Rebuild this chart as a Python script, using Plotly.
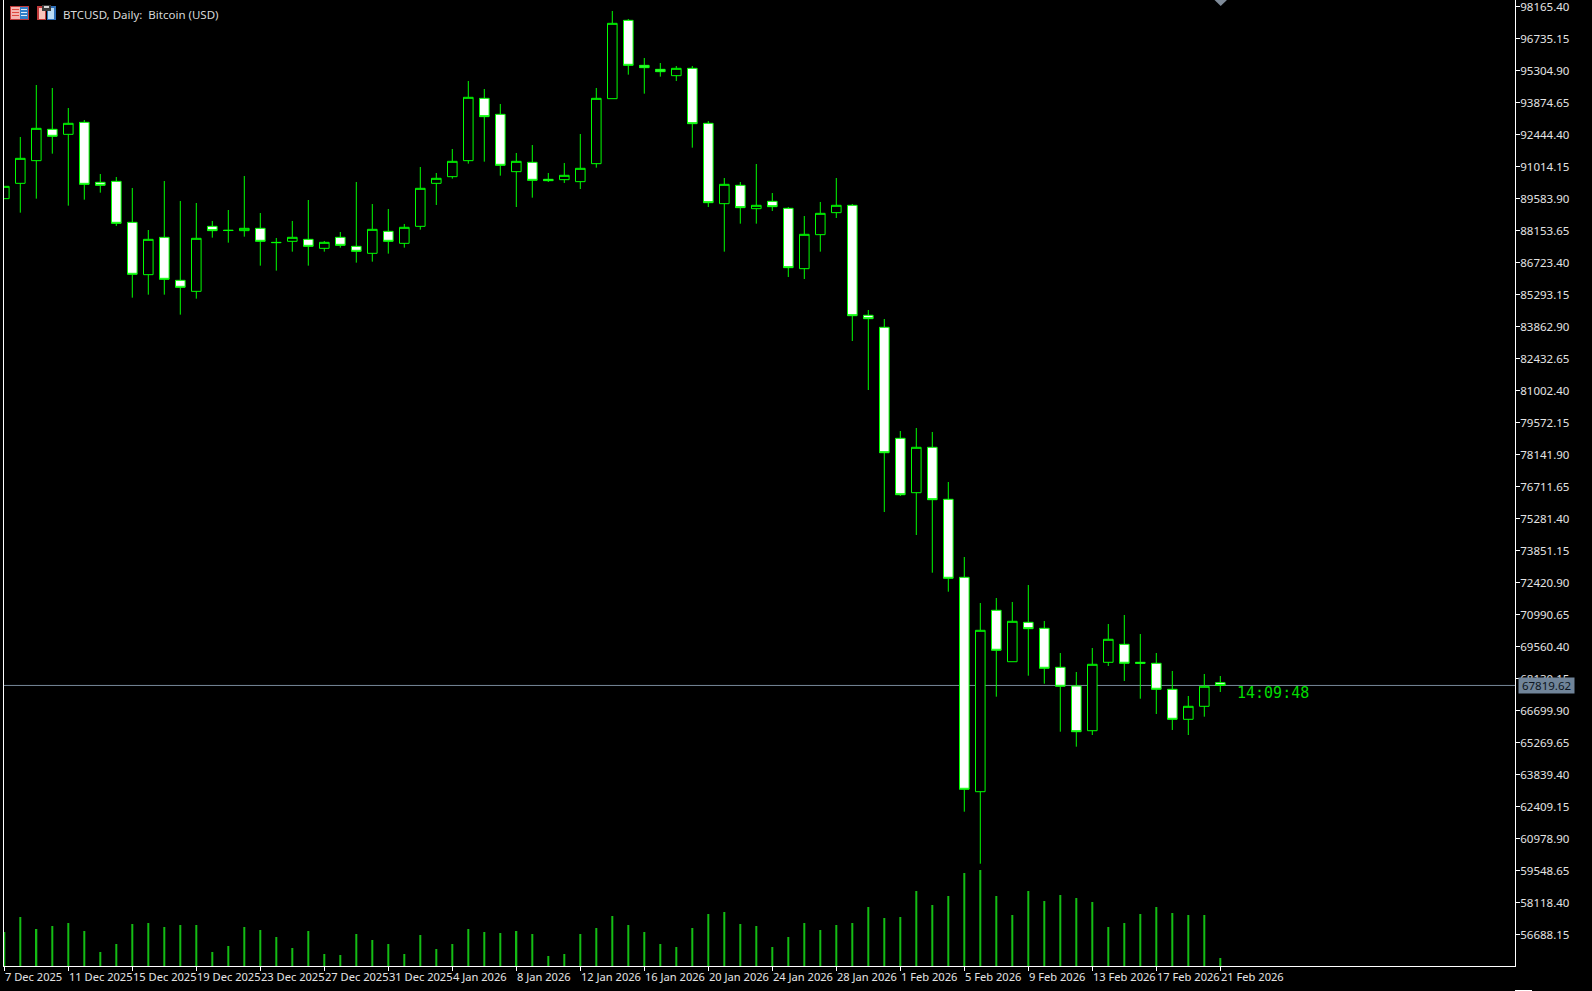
import pandas as pd
import plotly.graph_objects as go

# ---------- data ----------
start_date = "2025-12-07"
open_ = [89577,90262,91275,92676,92452,92988,90307,90351,88519,86180,87849,85927,85435,88340,88168,88147,88251,87623,87670,87759,
         87357,87849,87446,87134,88117,87580,88340,90262,90560,91275,94061,93346,90784,91201,90441,90426,90337,91141,94046,97547,
         95536,95357,95074,95402,92944,89353,90173,89130,89458,89145,86448,87968,88951,89280,84364,83827,78866,76435,78464,76140,
         72653,63071,71179,68881,70642,70374,68631,67795,65797,68854,69659,68854,68810,67648,66307,66888,67943]
high = [90128,92333,94657,94523,93629,93093,90679,90545,90054,88176,90366,89473,89383,88579,89070,90590,88936,87819,88579,89517,
        87685,88087,90322,89338,89115,88445,90992,90724,91797,94836,94478,93808,91618,91975,90724,91171,92467,94523,97964,97607,
        95864,95640,95506,95506,93048,90500,90322,91126,89830,89204,88802,89428,90500,89338,84601,84198,79192,79327,79148,76913,
        73561,71505,71728,71550,72309,70700,69270,68421,69494,70566,70969,70119,69270,68466,67348,68332,68242]
low = [89577,88951,89577,91588,89264,89532,89845,88355,85152,85286,85286,84392,85107,87834,87610,87878,86582,86359,87208,86582,
       87208,87387,86716,86761,87119,87387,88191,89294,90471,91141,91230,90605,89204,89621,90322,90277,90009,90962,94046,95119,
       94270,95029,94836,91856,89204,87208,88459,88459,89026,86076,85986,87208,88713,83215,81025,75572,76287,74544,72859,72010,
       62177,59853,67317,68881,68256,67898,65753,65082,65605,68689,68019,67228,66544,65829,65605,66423,67527]
close = [90128,91379,92720,92363,92944,90217,90173,88474,86195,87759,85971,85614,87804,88147,88153,88251,87670,87613,87849,87446,
         87625,87491,87223,88206,87670,88296,90039,90486,91245,94106,93242,91067,91245,90396,90381,90620,90933,94061,97413,95536,
         95432,95253,95402,92929,89398,90217,89175,89279,89219,86493,87983,88921,89279,84346,84212,78222,76345,78464,76122,72609,
         63178,70284,69391,70687,70356,68586,67782,65753,68765,69883,68810,68810,67648,66307,66888,67782,67819.62]
volume = [34,49,37,40,43,35,14,22,42,43,39,41,41,14,20,39,36,29,18,35,12,11,32,26,22,12,31,17,22,37,34,33,35,32,10,12,32,38,50,41,
          34,22,19,38,52,54,42,40,19,29,43,36,41,43,59,48,49,75,61,70,93,96,70,51,75,65,71,68,64,39,43,52,59,53,51,51,8]
price_ticks = [98165.40,96735.15,95304.90,93874.65,92444.40,91014.15,89583.90,88153.65,86723.40,85293.15,83862.90,82432.65,
               81002.40,79572.15,78141.90,76711.65,75281.40,73851.15,72420.90,70990.65,69560.40,68130.15,66699.90,65269.65,
               63839.40,62409.15,60978.90,59548.65,58118.40,56688.15]
date_tick_labels = ["7 Dec 2025","11 Dec 2025","15 Dec 2025","19 Dec 2025","23 Dec 2025","27 Dec 2025","31 Dec 2025",
                    "4 Jan 2026","8 Jan 2026","12 Jan 2026","16 Jan 2026","20 Jan 2026","24 Jan 2026","28 Jan 2026",
                    "1 Feb 2026","5 Feb 2026","9 Feb 2026","13 Feb 2026","17 Feb 2026","21 Feb 2026"]
last_price = 67819.62
countdown = "14:09:48"
title = "BTCUSD, Daily:\u00a0\u00a0Bitcoin (USD)"
# -------------------------------------------------

W, H = 1592, 991
L, R, B = 4, 1515, 966
GREEN = "#00ff00"
VOL_GREEN = "#14bc14"
TXT = "#e4e4e4"
FONT = "Noto Sans"

dates = pd.date_range(start_date, periods=len(open_), freq="D")
tick_dates = pd.date_range(start_date, periods=len(date_tick_labels), freq="4D")
day_px = 16.0
xr0 = dates[0] - pd.Timedelta(days=0.3 / day_px)
xr1 = xr0 + pd.Timedelta(days=(R - L) / day_px)
ytop = 98455.92
ybot = ytop - 44.695 * B


def px(x):
    return (x - L) / (R - L)


def py(y):
    return (B - y) / B


fig = go.Figure()
fig.add_trace(go.Bar(x=dates, y=volume, yaxis="y2", width=2 / day_px * 86400000,
                     marker=dict(color=VOL_GREEN, line=dict(width=0)), hoverinfo="skip", showlegend=False))
fig.add_trace(go.Candlestick(
    x=dates, open=open_, high=high, low=low, close=close, whiskerwidth=0, showlegend=False,
    increasing=dict(fillcolor="#000000", line=dict(color=GREEN, width=1)),
    decreasing=dict(fillcolor="#ffffff", line=dict(color=GREEN, width=1)),
))

shapes = [
    dict(type="line", xref="paper", yref="y", x0=0, x1=1, y0=last_price, y1=last_price, layer="below",
         line=dict(color="#778899", width=1)),
    # shift marker at top
    dict(type="path", xref="paper", yref="paper", layer="above", line=dict(width=0), fillcolor="#7f8b99",
         path=f"M{px(1213.5)},{py(-1)} L{px(1228)},{py(-1)} L{px(1220.7)},{py(6)} Z"),
    # scrap at bottom
    dict(type="rect", xref="paper", yref="paper", x0=px(1515), x1=px(1532), y0=py(991), y1=py(990),
         fillcolor="#ffffff", line=dict(width=0), layer="above"),
]


def box(x0, y0, x1, y1, fill):
    return dict(type="rect", xref="paper", yref="paper", x0=px(x0), x1=px(x1), y0=py(y0), y1=py(y1),
                fillcolor=fill, line=dict(width=0), layer="above")


# toolbar icons
shapes += [
    box(10, 6, 29, 20, "#c03a3a"), box(11, 7, 20, 19, "#f5b5b0"), box(20, 7, 28, 19, "#2f7fc8"),
    box(12, 9, 19, 10, "#e04a40"), box(12, 12, 19, 13, "#e04a40"), box(12, 15, 19, 16, "#e04a40"),
    box(21, 9, 27, 10, "#dcecf8"), box(21, 12, 27, 13, "#dcecf8"), box(21, 15, 27, 16, "#dcecf8"),
    box(37, 6, 46, 20, "#c03a3a"), box(39, 8, 45, 19, "#f8c4bc"), box(47, 6, 56, 20, "#2f6fb8"),
    box(48, 8, 54, 19, "#bcdcf4"), box(42, 5, 51, 11, "#3a3a3a"), box(44, 6, 49, 8, "#d8d8d8"),
]

annotations = [
    dict(x=d, y=0, xref="x", yref="paper", text=t, xanchor="left", yanchor="middle", yshift=-10.7, showarrow=False,
         borderpad=0, font=dict(family=FONT, size=11.1, color=TXT), align="left")
    for d, t in zip(tick_dates, date_tick_labels)
]
annotations += [
    dict(x=px(62), y=py(15), xref="paper", yref="paper", text=title, xanchor="left", yanchor="middle",
         showarrow=False, borderpad=0, font=dict(family=FONT, size=11.5, color="#d8d8d8")),
    dict(x=px(1518), y=py(685.5), xref="paper", yref="paper", text=f"{last_price:.2f}", xanchor="left", yanchor="middle",
         showarrow=False, borderpad=1, bgcolor="#708499", width=53, height=13, align="center",
         font=dict(family=FONT, size=11.5, color="#0c1420")),
    dict(x=px(1236), y=py(692.7), xref="paper", yref="paper", text=countdown, xanchor="left", yanchor="middle",
         showarrow=False, borderpad=0, font=dict(family="DejaVu Sans Mono", size=15, color="#00dd00")),
]

fig.update_layout(
    width=W, height=H, margin=dict(l=L, r=W - R, t=0, b=H - B, pad=0),
    paper_bgcolor="#000000", plot_bgcolor="#000000", showlegend=False, dragmode=False,
    boxgap=0.4, boxgroupgap=0, barmode="overlay", shapes=shapes, annotations=annotations,
    xaxis=dict(type="date", range=[xr0, xr1], rangeslider=dict(visible=False), showgrid=False, zeroline=False,
               showline=True, linecolor="#ffffff", linewidth=1, ticks="outside", ticklen=4, tickcolor="#ffffff",
               tickwidth=1, tickvals=list(tick_dates), showticklabels=False),
    yaxis=dict(side="right", range=[ybot, ytop], showgrid=False, zeroline=False, showline=True, mirror=True,
               linecolor="#ffffff", linewidth=1, ticks="outside", ticklen=4, tickcolor="#ffffff", tickwidth=1,
               tickvals=price_ticks, ticktext=[f"{v:.2f}" for v in price_ticks], ticklabeloverflow="allow",
               ticklabelstandoff=-2, tickfont=dict(family=FONT, size=11.5, color=TXT)),
    yaxis2=dict(overlaying="y", range=[0, B], visible=False, fixedrange=True),
)

fig.write_html("out.html", config=dict(displayModeBar=False),
               post_script="document.body.style.margin='0';document.body.style.background='#000';")
